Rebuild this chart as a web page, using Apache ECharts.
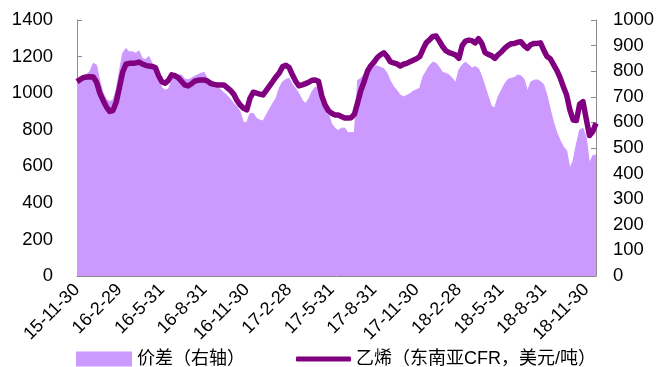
<!DOCTYPE html>
<html>
<head>
<meta charset="utf-8">
<script src="https://cdn.jsdelivr.net/npm/echarts@6/dist/echarts.min.js"></script>
<style>
  html, body { margin: 0; padding: 0; background: #fff; }
  #chart { width: 659px; height: 367px; }
</style>
</head>
<body>
<div id="chart"></div>
<script>
// Weekly series, starting 2015-11-30
const startDate = '2015-11-30';

// Quarter-end tick labels (one every 13 weeks)
const tickLabels = ['15-11-30', '16-2-29', '16-5-31', '16-8-31', '16-11-30', '17-2-28', '17-5-31',
  '17-8-31', '17-11-30', '18-2-28', '18-5-31', '18-8-31', '18-11-30'];

// Ethylene, CFR Southeast Asia (USD/t), left axis
const ethylene = [
  1063, 1075, 1085, 1088, 1090, 1088, 1060, 1000, 960, 925,
  900, 905, 950, 1030, 1115, 1158, 1163, 1163, 1165, 1170,
  1160, 1152, 1148, 1146, 1140, 1095, 1062, 1054, 1070, 1100,
  1095, 1085, 1065, 1045, 1039, 1050, 1065, 1070, 1072, 1072,
  1066, 1052, 1048, 1045, 1045, 1045, 1030, 1015, 995, 960,
  935, 918, 908, 972, 1005, 1000, 995, 990, 1015, 1040,
  1065, 1090, 1112, 1145, 1152, 1140, 1100, 1065, 1040, 1045,
  1052, 1060, 1070, 1072, 1065, 985, 935, 905, 890, 881,
  881, 872, 864, 864, 866, 885, 950, 1017, 1065, 1120,
  1150, 1170, 1195, 1210, 1221, 1200, 1172, 1165, 1160, 1148,
  1158, 1163, 1172, 1180, 1188, 1200, 1240, 1275, 1292, 1310,
  1312, 1285, 1255, 1232, 1222, 1216, 1208, 1190, 1260, 1285,
  1290, 1287, 1275, 1298, 1272, 1222, 1212, 1205, 1190, 1210,
  1225, 1245, 1260, 1270, 1272, 1278, 1281, 1260, 1245, 1265,
  1272, 1272, 1275, 1235, 1200, 1188, 1156, 1125, 1085, 1035,
  990, 908, 853, 850, 940, 954, 860, 768, 790, 835
];

// Price spread, right axis
const spread = [
  746, 779, 785, 788, 800, 831, 824, 760, 715, 690,
  681, 687, 726, 800, 870, 889, 875, 876, 870, 879,
  850, 846, 857, 831, 812, 770, 735, 726, 730, 760,
  782, 785, 785, 770, 766, 772, 780, 786, 792, 795,
  768, 764, 758, 740, 728, 716, 705, 690, 675, 661,
  640, 600, 600, 635, 635, 616, 609, 605, 630, 652,
  675, 695, 735, 759, 768, 772, 748, 732, 712, 687,
  674, 692, 720, 738, 735, 705, 670, 635, 595, 578,
  568, 577, 578, 560, 560, 562, 765, 772, 790, 808,
  816, 820, 820, 815, 810, 792, 762, 740, 725, 707,
  700, 705, 712, 722, 728, 733, 779, 800, 822, 835,
  831, 815, 795, 792, 785, 772, 755, 805, 824, 835,
  825, 812, 818, 810, 780, 740, 700, 662, 658, 700,
  725, 750, 768, 772, 775, 785, 782, 768, 722, 758,
  765, 766, 760, 746, 705, 650, 600, 560, 530, 505,
  490, 420, 450, 515, 570, 577, 540, 440, 470, 473
];

const seriesNames = ['价差（右轴）', '乙烯（东南亚CFR，美元/吨）'];

// Weekly category names
const weeks = [];
{
  const d0 = new Date(startDate + 'T00:00:00Z');
  for (let i = 0; i < ethylene.length; i++) {
    const d = new Date(d0.getTime() + i * 7 * 86400000);
    weeks.push(d.toISOString().slice(0, 10));
  }
}

const TICK_STEP = 13;
const isTick = (idx) => idx % TICK_STEP === 0;
const axisGray = '#8c8c8c';
const numFont = '"Liberation Sans", Arial, sans-serif';
const cjkFont = '"Liberation Sans", "Noto Sans CJK SC", sans-serif';
const plainNumber = (v) => String(v);

const chart = echarts.init(document.getElementById('chart'), null, { renderer: 'canvas' });
chart.setOption({
  animation: false,
  backgroundColor: '#ffffff',
  grid: { left: 77, right: 63, top: 20, bottom: 91, containLabel: false },
  legend: [
    {
      data: [{ name: seriesNames[0], icon: 'rect' }],
      left: 76, top: 350, padding: 0,
      itemWidth: 56, itemHeight: 15, itemGap: 0,
      textStyle: { fontSize: 18, color: '#000', fontFamily: cjkFont }
    },
    {
      data: [{ name: seriesNames[1], icon: 'roundRect' }],
      left: 296, top: 350, padding: 0,
      itemWidth: 55, itemHeight: 5, itemGap: 0,
      textStyle: { fontSize: 18, color: '#000', fontFamily: cjkFont }
    }
  ],
  xAxis: {
    type: 'category',
    data: weeks,
    boundaryGap: false,
    axisLine: { lineStyle: { color: axisGray, width: 1 } },
    axisTick: { inside: true, length: 6, interval: (idx) => isTick(idx), lineStyle: { color: axisGray } },
    axisLabel: {
      interval: (idx) => isTick(idx),
      rotate: 45,
      margin: 11,
      fontSize: 18,
      color: '#000',
      fontFamily: numFont,
      formatter: (val, idx) => tickLabels[idx / TICK_STEP] || ''
    },
    splitLine: { show: false }
  },
  yAxis: [
    {
      type: 'value', min: 0, max: 1400, interval: 200, position: 'left',
      axisLine: { show: true, lineStyle: { color: axisGray, width: 1 } },
      axisTick: { show: true, inside: true, length: 5, lineStyle: { color: axisGray } },
      axisLabel: { fontSize: 18.5, color: '#000', fontFamily: numFont, margin: 24, formatter: plainNumber },
      splitLine: { show: false }
    },
    {
      type: 'value', min: 0, max: 1000, interval: 100, position: 'right',
      axisLine: { show: true, lineStyle: { color: axisGray, width: 1 } },
      axisTick: { show: true, inside: true, length: 5, lineStyle: { color: axisGray } },
      axisLabel: { fontSize: 18.5, color: '#000', fontFamily: numFont, margin: 17, formatter: plainNumber },
      splitLine: { show: false }
    }
  ],
  series: [
    {
      name: seriesNames[0],
      type: 'line',
      yAxisIndex: 1,
      data: spread,
      symbol: 'none',
      smooth: false,
      lineStyle: { width: 1, color: '#cc99ff' },
      itemStyle: { color: '#cc99ff' },
      areaStyle: { color: '#cc99ff', opacity: 1 },
      z: 1
    },
    {
      name: seriesNames[1],
      type: 'line',
      yAxisIndex: 0,
      data: ethylene,
      symbol: 'none',
      smooth: false,
      lineStyle: { width: 5.5, color: '#800080', join: 'round' },
      itemStyle: { color: '#800080' },
      z: 3
    }
  ]
});
</script>
</body>
</html>
